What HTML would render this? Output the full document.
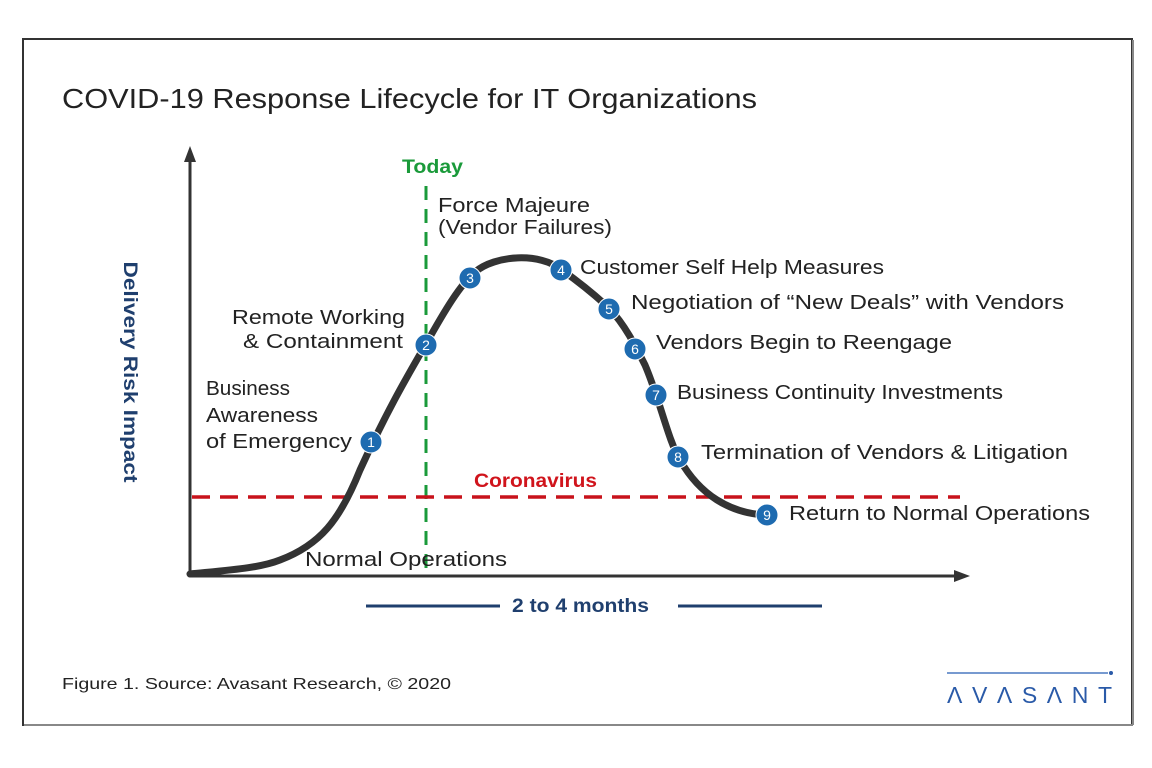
<!DOCTYPE html>
<html><head><meta charset="utf-8"><style>
html,body{margin:0;padding:0;background:#fff;width:1152px;height:768px;overflow:hidden}
svg{display:block}
text{font-family:"Liberation Sans",sans-serif}
</style></head><body>
<svg width="1152" height="768" viewBox="0 0 1152 768">
<rect x="23" y="39" width="1109" height="686" fill="#fff" stroke="#333" stroke-width="2"/>
<line x1="24" y1="725" x2="1133" y2="725" stroke="#888" stroke-width="2"/>
<line x1="1133" y1="40" x2="1133" y2="725" stroke="#888" stroke-width="2"/>
<text x="62" y="108" font-size="28" fill="#222" textLength="695" lengthAdjust="spacingAndGlyphs">COVID-19 Response Lifecycle for IT Organizations</text>
<line x1="190" y1="576" x2="190" y2="158" stroke="#333" stroke-width="3"/>
<polygon points="190,146 184,162 196,162" fill="#333"/>
<line x1="190" y1="576" x2="958" y2="576" stroke="#333" stroke-width="3"/>
<polygon points="970,576 954,570 954,582" fill="#333"/>
<text transform="translate(124,372) rotate(90)" font-size="19" font-weight="bold" fill="#1f3f6e" text-anchor="middle" textLength="221" lengthAdjust="spacingAndGlyphs">Delivery Risk Impact</text>
<line x1="426" y1="186" x2="426" y2="575" stroke="#1a9a3a" stroke-width="3" stroke-dasharray="14,9"/>
<text x="402" y="173" font-size="19" font-weight="bold" fill="#1a9a3a" textLength="61" lengthAdjust="spacingAndGlyphs">Today</text>
<line x1="192" y1="497" x2="960" y2="497" stroke="#c8121b" stroke-width="3.5" stroke-dasharray="18,10"/>
<text x="474" y="487" font-size="19" font-weight="bold" fill="#d0141c" textLength="123" lengthAdjust="spacingAndGlyphs">Coronavirus</text>
<path d="M190,574 C230,570 260,568 280,560 C320,545 340,520 360,470 C385,415 405,380 426,344 C445,310 460,285 475,272 C495,255 540,252 562,270 C590,290 600,300 609,308 C625,325 635,345 645,365 C660,400 668,440 680,460 C700,495 730,513 765,515" fill="none" stroke="#333" stroke-width="7" stroke-linecap="round"/>
<g fill="#1e6bb0" stroke="#fff" stroke-width="1">
<circle cx="371" cy="442" r="11"/><circle cx="426" cy="345" r="11"/><circle cx="470" cy="278" r="11"/>
<circle cx="561" cy="270" r="11"/><circle cx="609" cy="309" r="11"/><circle cx="635" cy="349" r="11"/>
<circle cx="656" cy="395" r="11"/><circle cx="678" cy="457" r="11"/><circle cx="767" cy="515" r="11"/>
</g>
<g fill="#fff" font-size="14" text-anchor="middle">
<text x="371" y="447">1</text><text x="426" y="350">2</text><text x="470" y="283">3</text>
<text x="561" y="275">4</text><text x="609" y="314">5</text><text x="635" y="354">6</text>
<text x="656" y="400">7</text><text x="678" y="462">8</text><text x="767" y="520">9</text>
</g>
<g font-size="20" fill="#222">
<text x="438" y="212" textLength="152" lengthAdjust="spacingAndGlyphs">Force Majeure</text>
<text x="438" y="234" textLength="174" lengthAdjust="spacingAndGlyphs">(Vendor Failures)</text>
<text x="580" y="274" textLength="304" lengthAdjust="spacingAndGlyphs">Customer Self Help Measures</text>
<text x="631" y="309" textLength="433" lengthAdjust="spacingAndGlyphs">Negotiation of “New Deals” with Vendors</text>
<text x="656" y="349" textLength="296" lengthAdjust="spacingAndGlyphs">Vendors Begin to Reengage</text>
<text x="677" y="399" textLength="326" lengthAdjust="spacingAndGlyphs">Business Continuity Investments</text>
<text x="701" y="459" textLength="367" lengthAdjust="spacingAndGlyphs">Termination of Vendors &amp; Litigation</text>
<text x="789" y="520" textLength="301" lengthAdjust="spacingAndGlyphs">Return to Normal Operations</text>
<text x="232" y="324" textLength="173" lengthAdjust="spacingAndGlyphs">Remote Working</text>
<text x="243" y="348" textLength="160" lengthAdjust="spacingAndGlyphs">&amp; Containment</text>
<text x="206" y="395" textLength="84" lengthAdjust="spacingAndGlyphs">Business</text>
<text x="206" y="422" textLength="112" lengthAdjust="spacingAndGlyphs">Awareness</text>
<text x="206" y="448" textLength="146" lengthAdjust="spacingAndGlyphs">of Emergency</text>
<text x="305" y="566" textLength="202" lengthAdjust="spacingAndGlyphs">Normal Operations</text>
</g>
<line x1="366" y1="606" x2="500" y2="606" stroke="#1f3f6e" stroke-width="3"/>
<line x1="678" y1="606" x2="822" y2="606" stroke="#1f3f6e" stroke-width="3"/>
<text x="512" y="612" font-size="19" font-weight="bold" fill="#1f3f6e" textLength="137" lengthAdjust="spacingAndGlyphs">2 to 4 months</text>
<text x="62" y="689" font-size="16" fill="#222" textLength="389" lengthAdjust="spacingAndGlyphs">Figure 1. Source: Avasant Research, © 2020</text>
<line x1="947" y1="673" x2="1108" y2="673" stroke="#4a78c0" stroke-width="1.5"/>
<circle cx="1111" cy="673" r="2" fill="#2a5aa8"/>
<text x="947" y="703" font-size="23" fill="#2a5aa8" textLength="165" lengthAdjust="spacing">ΛVΛSΛNT</text>
</svg>
</body></html>
